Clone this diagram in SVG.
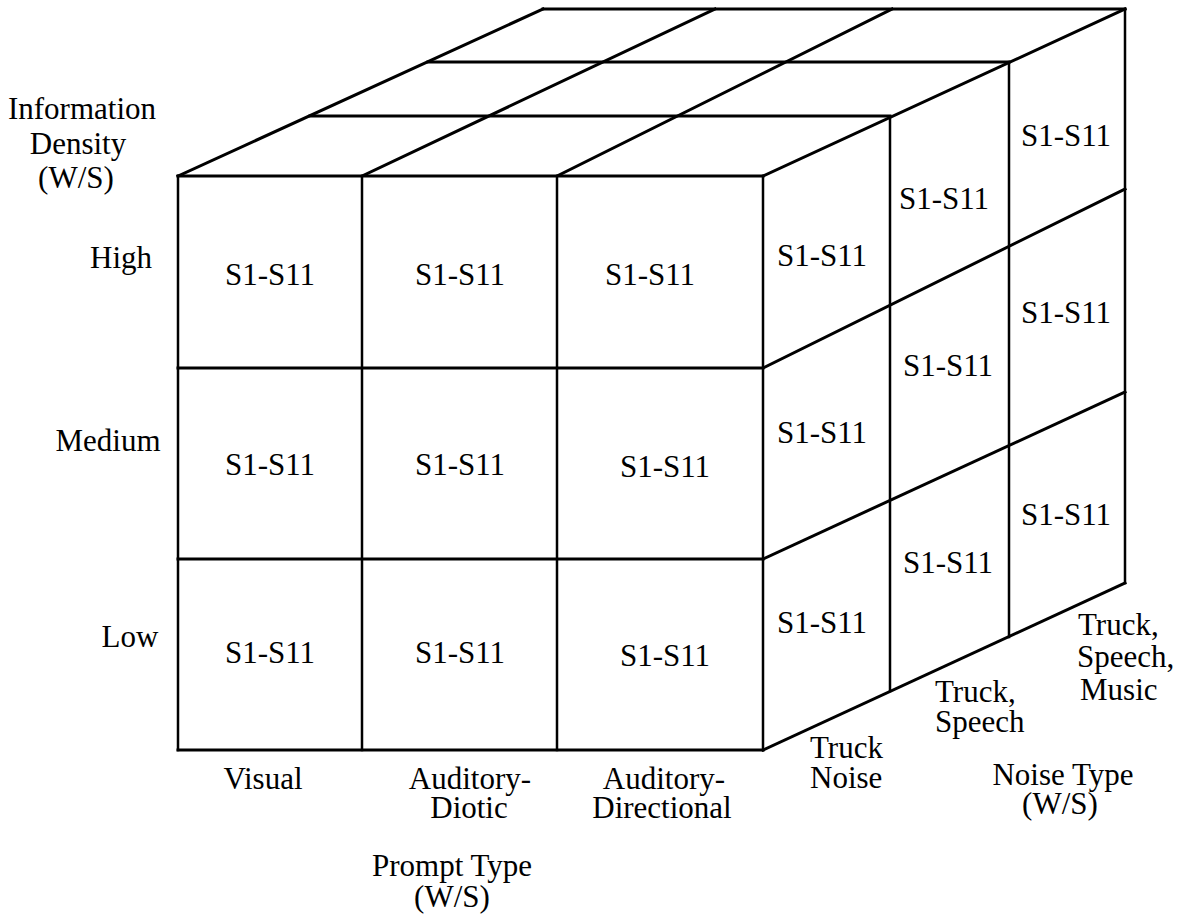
<svg xmlns="http://www.w3.org/2000/svg" width="1192" height="920" viewBox="0 0 1192 920">
  <style>
    .edge { stroke: #000; stroke-width: 3; fill: none; stroke-linecap: square; }
    .vert { stroke: #000; stroke-width: 2.5; fill: none; stroke-linecap: square; }
    text { font-family: "Liberation Serif", "Times New Roman", serif; font-size: 31px; fill: #000; }
    .c { text-anchor: middle; }
    .l { text-anchor: start; }
  </style>
  <rect width="1192" height="920" fill="#fff"/>

  <!-- cube outline and cell divisions -->
  <g id="cube-grid">
    <!-- front face -->
    <line class="edge" x1="178" y1="176" x2="763" y2="176"/>
    <line class="edge" x1="178" y1="368" x2="763" y2="368"/>
    <line class="edge" x1="178" y1="559" x2="763" y2="559"/>
    <line class="edge" x1="178" y1="750" x2="763" y2="750"/>
    <line class="vert" x1="178" y1="176" x2="178" y2="750"/>
    <line class="vert" x1="362" y1="176" x2="362" y2="750"/>
    <line class="vert" x1="557" y1="176" x2="557" y2="750"/>
    <line class="vert" x1="763" y1="176" x2="763" y2="750"/>
    <!-- top face -->
    <line class="edge" x1="178" y1="176" x2="543" y2="9"/>
    <line class="edge" x1="362" y1="176" x2="715" y2="9"/>
    <line class="edge" x1="557" y1="176" x2="892" y2="9"/>
    <line class="edge" x1="763" y1="176" x2="1125" y2="9"/>
    <line class="edge" x1="310" y1="116" x2="890" y2="116"/>
    <line class="edge" x1="428" y1="62" x2="1009" y2="62"/>
    <line class="edge" x1="543" y1="9" x2="1125" y2="9"/>
    <!-- right face -->
    <line class="edge" x1="763" y1="368" x2="1125" y2="189"/>
    <line class="edge" x1="763" y1="559" x2="1125" y2="392"/>
    <line class="edge" x1="763" y1="750" x2="1125" y2="583"/>
    <line class="vert" x1="890" y1="117" x2="890" y2="691"/>
    <line class="vert" x1="1009" y1="62" x2="1009" y2="637"/>
    <line class="vert" x1="1125" y1="9" x2="1125" y2="583"/>
  </g>

  <!-- front face cells -->
  <g id="front-high-visual"><text class="c" x="270" y="285">S1-S11</text></g>
  <g id="front-high-diotic"><text class="c" x="460" y="285">S1-S11</text></g>
  <g id="front-high-directional"><text class="c" x="650" y="285">S1-S11</text></g>
  <g id="front-medium-visual"><text class="c" x="270" y="475">S1-S11</text></g>
  <g id="front-medium-diotic"><text class="c" x="460" y="475">S1-S11</text></g>
  <g id="front-medium-directional"><text class="c" x="665" y="477">S1-S11</text></g>
  <g id="front-low-visual"><text class="c" x="270" y="663">S1-S11</text></g>
  <g id="front-low-diotic"><text class="c" x="460" y="663">S1-S11</text></g>
  <g id="front-low-directional"><text class="c" x="665" y="666">S1-S11</text></g>

  <!-- side face cells -->
  <g id="side-high-truck"><text class="c" x="822" y="266">S1-S11</text></g>
  <g id="side-high-speech"><text class="c" x="944" y="209">S1-S11</text></g>
  <g id="side-high-music"><text class="c" x="1066" y="146">S1-S11</text></g>
  <g id="side-medium-truck"><text class="c" x="822" y="443">S1-S11</text></g>
  <g id="side-medium-speech"><text class="c" x="948" y="376">S1-S11</text></g>
  <g id="side-medium-music"><text class="c" x="1066" y="323">S1-S11</text></g>
  <g id="side-low-truck"><text class="c" x="822" y="633">S1-S11</text></g>
  <g id="side-low-speech"><text class="c" x="948" y="573">S1-S11</text></g>
  <g id="side-low-music"><text class="c" x="1066" y="525">S1-S11</text></g>

  <!-- information density axis -->
  <g id="axis-density">
    <text class="c" x="82" y="119">Information</text>
    <text class="c" x="78" y="154">Density</text>
    <text class="c" x="76" y="188">(W/S)</text>
    <text class="c" x="121" y="268">High</text>
    <text class="c" x="108" y="451">Medium</text>
    <text class="c" x="130" y="647">Low</text>
  </g>

  <!-- prompt type axis -->
  <g id="axis-prompt">
    <text class="c" x="263" y="789">Visual</text>
    <text class="c" x="470" y="789">Auditory-</text>
    <text class="c" x="469" y="818">Diotic</text>
    <text class="c" x="664" y="789">Auditory-</text>
    <text class="c" x="662" y="818">Directional</text>
    <text class="c" x="452" y="876">Prompt Type</text>
    <text class="c" x="452" y="907">(W/S)</text>
  </g>

  <!-- noise type axis -->
  <g id="axis-noise">
    <text class="l" x="810" y="758">Truck</text>
    <text class="l" x="810" y="788">Noise</text>
    <text class="l" x="935" y="702">Truck,</text>
    <text class="l" x="935" y="732">Speech</text>
    <text class="l" x="1078" y="635">Truck,</text>
    <text class="l" x="1077" y="667">Speech,</text>
    <text class="l" x="1080" y="700">Music</text>
    <text class="c" x="1063" y="785">Noise Type</text>
    <text class="c" x="1060" y="814">(W/S)</text>
  </g>
</svg>
